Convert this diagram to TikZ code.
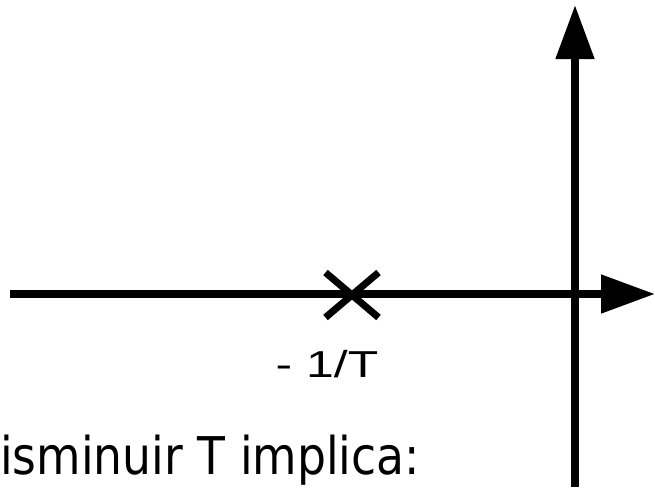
\documentclass[tikz,border=0pt]{standalone}
\usepackage{fontspec}
\usepackage{tikz}
\usetikzlibrary{arrows.meta, shapes.misc, positioning, calc}
\setmainfont{DejaVu Sans}
\newfontfamily\rotulofont{Liberation Sans}

\begin{document}
\begin{tikzpicture}[x=1pt, y=-1pt,
  eixo/.style={line width=8pt, -{Triangle[length=54pt, width=37pt]}},
  polo/.style={cross out, draw, line width=7pt, minimum width=46pt, minimum height=38pt, inner sep=0pt}]
% --- PLANO S: EIXOS, POLO E TEXTO ---
\useasboundingbox (0,0) rectangle (655,487);

% LAYER 1: Eixos real e imaginario
\coordinate (reIni) at (10,294);
\coordinate (reFim) at (655,294);
\coordinate (imIni) at (575,487);
\coordinate (imFim) at (575,5);
\draw[eixo] (reIni) -- (reFim);
\draw[eixo] (imIni) -- (imFim);

% LAYER 2: Polo em -1/T
\node[polo] (polo) at (352,295) {};
\node[anchor=base, inner sep=0pt, xscale=1.33, transform shape] (poloTxt) at (327,377) {\rotulofont\fontsize{37.5}{40}\selectfont - 1/T};

% LAYER 3: Texto
\node[anchor=base west, inner sep=0pt, xscale=0.878, transform shape] (texto) at (0,474.5) {\fontsize{52}{60}\selectfont isminuir T implica:};
\end{tikzpicture}
\end{document}
